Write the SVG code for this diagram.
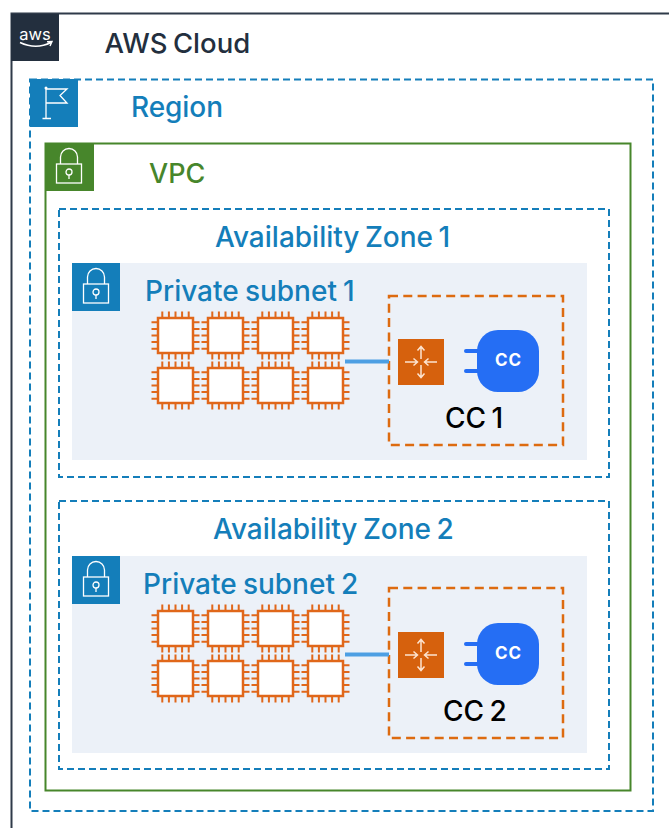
<svg xmlns="http://www.w3.org/2000/svg" width="669" height="828" viewBox="0 0 669 828">
<style>
text{font-family:Inter,"Noto Sans","Liberation Sans",sans-serif;font-weight:500;word-spacing:-2px}
.blue{fill:#147eba;font-size:28px}
.sn{word-spacing:-1.300px}
.blk{fill:#000;font-size:28px}
.ic{fill:none;stroke:#fff;stroke-width:1.3}
.dz{fill:none;stroke:#147eba;stroke-width:2;stroke-dasharray:7 4}
.cc{fill:none;stroke:#dd6b10;stroke-width:2.5;stroke-dasharray:9 5.3}
.conn{stroke:#4d9fe3;stroke-width:4;fill:none}
.sub{fill:#ecf1f8}
.pin{stroke:#e0671a;stroke-width:2;fill:none}
</style>
<defs>
<g id="lock">
<rect x="-12.5" y="-1" width="25" height="19" class="ic"/>
<path d="M-8.5-1V-8a8.5 8.5 0 0 1 17 0V-1" class="ic"/>
<circle cx="0" cy="7" r="3" class="ic"/>
<path d="M0 10V14" class="ic"/>
</g>
<g id="chip">
<path class="pin" d="M-13.200-18v-6M-6.600-18v-6M0-18v-6M6.600-18v-6M13.200-18v-6M-13.200 18v6M-6.600 18v6M0 18v6M6.600 18v6M13.200 18v6M-18-13.200h-6M-18-6.600h-6M-18 0h-6M-18 6.600h-6M-18 13.200h-6M18-13.200h6M18-6.600h6M18 0h6M18 6.600h6M18 13.200h6"/>
<rect x="-17.500" y="-17.500" width="35" height="35" fill="#fff" stroke="#e0671a" stroke-width="2.500"/>
</g>
<g id="chips">
<use href="#chip" x="175.500" y="335.500"/><use href="#chip" x="225.500" y="335.500"/><use href="#chip" x="275.500" y="335.500"/><use href="#chip" x="325.500" y="335.500"/>
<use href="#chip" x="175.500" y="385.500"/><use href="#chip" x="225.500" y="385.500"/><use href="#chip" x="275.500" y="385.500"/><use href="#chip" x="325.500" y="385.500"/>
</g>
<g id="nat">
<rect x="398" y="339" width="46" height="46" fill="#d6610d"/>
<path d="M421 359V347M417.500 350.500L421 346.500L424.500 350.500M421 365V377M417.500 373.500L421 377.500L424.500 373.500M405 362H417M413.500 358.500L417.500 362L413.500 365.500M437 362H425M428.500 358.500L424.500 362L428.500 365.500" fill="none" stroke="#fde3cf" stroke-width="1.500"/>
</g>
<g id="ccicon">
<path d="M466 351H478M466 371H478" stroke="#256ef4" stroke-width="4" stroke-linecap="round" fill="none"/>
<rect x="477" y="330" width="62" height="62" rx="21" fill="#256ef4"/>
<text x="508.500" y="366" text-anchor="middle" font-size="17" style="font-weight:700" letter-spacing="1" fill="#fff">CC</text>
</g>
</defs>
<rect width="669" height="828" fill="#fff"/>
<g id="aws-cloud">
<path d="M669 13.500H11.500V828" fill="none" stroke="#2f3a49" stroke-width="2"/>
<rect x="11" y="14" width="48" height="47" fill="#232f3e"/>
<text x="35" y="40" text-anchor="middle" font-size="16.500" style="font-weight:400" fill="#fff">aws</text>
<path d="M20 42.500Q36 50 51 42.500M47 41.800L52 41.500L50 46" fill="none" stroke="#fff" stroke-width="1.400"/>
<text x="104.500" y="53" font-size="27.500" fill="#232f3e">AWS Cloud</text>
</g>
<g id="region">
<rect x="30" y="79.500" width="623" height="731.500" class="dz"/>
<rect x="30" y="79" width="48" height="48" fill="#147eba"/>
<path d="M46 88V118M42.500 118.500H51M46.500 89H67L60 95.500L67 103H46.500" class="ic"/>
<circle cx="46" cy="88" r="1.500" fill="#fff"/>
<text x="131" y="117" class="blue" textLength="92">Region</text>
</g>
<g id="vpc">
<rect x="45.500" y="143.500" width="585" height="647" fill="none" stroke="#47862b" stroke-width="2"/>
<rect x="45" y="143" width="49" height="48" fill="#47862b"/>
<use href="#lock" x="69" y="165"/>
<text x="149" y="182.500" font-size="27" fill="#47862b">VPC</text>
</g>
<g id="az1">
<rect x="59" y="209" width="550" height="268" class="dz"/>
<text x="215" y="246.500" class="blue">Availability Zone 1</text>
</g>
<g id="subnet1">
<rect x="72" y="263" width="515" height="197" class="sub"/>
<rect x="72" y="263" width="48" height="48" fill="#147eba"/>
<use href="#lock" x="96" y="285"/>
<text x="145" y="300.500" class="blue sn">Private subnet 1</text>
</g>
<g id="instances1"><use href="#chips"/></g>
<g id="cc1">
<rect x="389" y="296" width="174" height="149" class="cc"/>
<use href="#nat"/>
<use href="#ccicon"/>
<text x="445" y="428" class="blk">CC 1</text>
</g>
<g id="az2">
<rect x="59" y="501" width="550" height="268" class="dz"/>
<text x="213" y="538.500" class="blue">Availability Zone 2</text>
</g>
<g id="subnet2">
<rect x="72" y="556" width="515" height="197" class="sub"/>
<rect x="72" y="556" width="48" height="48" fill="#147eba"/>
<use href="#lock" x="96" y="578"/>
<text x="143" y="593.500" class="blue sn">Private subnet 2</text>
</g>
<g id="instances2"><use href="#chips" y="293"/></g>
<g id="cc2">
<rect x="389" y="588" width="174" height="150" class="cc"/>
<use href="#nat" y="293"/>
<use href="#ccicon" y="293"/>
<text x="443" y="721" class="blk">CC 2</text>
</g>
<g id="connectors">
<path class="conn" d="M345 361.500H389"/>
<path class="conn" d="M345 654.500H389"/>
</g>
</svg>
